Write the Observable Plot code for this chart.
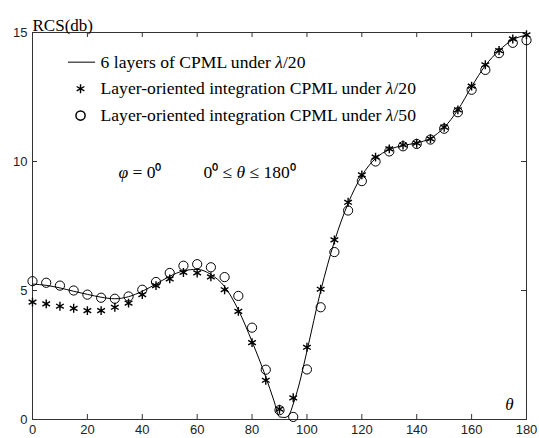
<!DOCTYPE html>
<html><head><meta charset="utf-8">
<script src="https://cdn.jsdelivr.net/npm/d3@7"></script>
<script src="https://cdn.jsdelivr.net/npm/@observablehq/plot@0.6"></script>
<style>body{margin:0;background:#fff}</style>
</head><body><div id="chart"></div>
<script>
// Observation angles (degrees)
const theta = [0,5,10,15,20,25,30,35,40,45,50,55,60,65,70,75,80,85,90,95,100,105,110,115,120,125,130,135,140,145,150,155,160,165,170,175,180];
// Layer-oriented integration CPML under λ/20 (stars)
const starRCS = [4.55,4.48,4.39,4.31,4.22,4.22,4.35,4.51,4.84,5.19,5.45,5.70,5.68,5.53,5.03,4.19,2.98,1.52,0.40,0.84,2.80,5.05,6.96,8.42,9.48,10.17,10.49,10.64,10.71,10.88,11.33,12.00,12.92,13.75,14.30,14.75,14.91];
// Layer-oriented integration CPML under λ/50 (circles)
const circleRCS = [5.36,5.30,5.19,5.00,4.84,4.72,4.68,4.77,5.03,5.33,5.68,5.96,6.02,5.90,5.52,4.79,3.56,1.93,0.36,0.10,1.94,4.35,6.49,8.10,9.24,10.00,10.39,10.59,10.68,10.85,11.27,11.91,12.78,13.55,14.20,14.60,14.70];
// 6 layers of CPML under λ/20 (solid line)
const lineTheta = [0,5,10,15,20,25,30,35,40,45,50,55,60,65,70,75,80,85,88,90,92,93.5,95,97,100,105,110,115,120,125,130,135,140,145,150,155,160,165,170,175,180];
const lineRCS = [5.25,5.20,5.10,4.97,4.85,4.74,4.68,4.76,4.97,5.25,5.55,5.76,5.82,5.62,5.15,4.25,3.02,1.65,0.72,0.10,0.08,0.18,0.60,1.30,2.65,4.98,6.90,8.38,9.45,10.12,10.46,10.62,10.72,10.90,11.32,12.00,12.90,13.72,14.30,14.72,14.90];

const xTicks = [0,20,40,60,80,100,120,140,160,180];
const yTicks = [0,5,10,15];
const legendLabels = ["6 layers of CPML under λ/20", "Layer-oriented integration CPML under λ/20", "Layer-oriented integration CPML under λ/50"];
const yLabel = "RCS(db)";
const xLabel = "θ";
const annotation1 = "φ = 0⁰";
const annotation2 = "0⁰ ≤ θ ≤ 180⁰";

const stars = theta.map((t, i) => ({t, v: starRCS[i]}));
const circles = theta.map((t, i) => ({t, v: circleRCS[i]}));
const curve = lineTheta.map((t, i) => ({t, v: lineRCS[i]}));

// legend placement (in data units)
const legRows = [13.85, 12.82, 11.78];
const legend = legendLabels.map((label, i) => ({label, y: legRows[i]}));

const W = 539, H = 438, mL = 32, mR = 13, mT = 32, mB = 19;
const innerW = W - mL - mR, innerH = H - mT - mB;
const serif = "'Liberation Serif', 'Times New Roman', serif";
const sans = "'Liberation Sans', Arial, sans-serif";

const plot = Plot.plot({
  width: W, height: H,
  marginLeft: mL, marginRight: mR, marginTop: mT, marginBottom: mB,
  x: {domain: [0, 180]},
  y: {domain: [0, 15]},
  style: {fontFamily: sans, fontSize: "13px", background: "#fff", color: "#222", overflow: "visible"},
  marks: [
    Plot.frame({stroke: "#333", strokeWidth: 1}),
    // inward ticks
    Plot.tickX(xTicks, {x: d => d, insetTop: innerH - 5, stroke: "#333"}),
    Plot.tickX(xTicks, {x: d => d, insetBottom: innerH - 5, stroke: "#333"}),
    Plot.tickY(yTicks, {y: d => d, insetRight: innerW - 5, stroke: "#333"}),
    Plot.tickY(yTicks, {y: d => d, insetLeft: innerW - 5, stroke: "#333"}),
    Plot.axisX({ticks: xTicks, tickSize: 0, tickPadding: 5, label: null, fontSize: 13}),
    Plot.axisY({ticks: yTicks, tickSize: 0, tickPadding: 5, label: null, fontSize: 13}),
    // data
    Plot.line(curve, {x: "t", y: "v", stroke: "#000", strokeWidth: 1, curve: "monotone-x"}),
    Plot.dot(circles, {x: "t", y: "v", symbol: "circle", r: 4.6, stroke: "#000", fill: "none", strokeWidth: 1}),
    Plot.dot(stars, {x: "t", y: "v", symbol: "asterisk", r: 4.2, stroke: "#000", strokeWidth: 1.4}),
    // legend
    Plot.ruleY([legend[0]], {y: "y", x1: 13.1, x2: 23, stroke: "#000", strokeWidth: 1}),
    Plot.dot([legend[1]], {x: 17.5, y: "y", symbol: "asterisk", r: 4.2, stroke: "#000", strokeWidth: 1.4}),
    Plot.dot([legend[2]], {x: 17.5, y: "y", symbol: "circle", r: 4.6, stroke: "#000", fill: "none"}),
    Plot.text(legend, {x: 24.8, y: "y", text: "label", textAnchor: "start", fontFamily: serif, fontSize: 17.6, fill: "#000"}),
    // annotations
    Plot.text([annotation1], {x: 31.3, y: 9.59, text: d => d, textAnchor: "start", fontFamily: serif, fontSize: 17.5, fill: "#000"}),
    Plot.text([annotation2], {x: 62.3, y: 9.59, text: d => d, textAnchor: "start", fontFamily: serif, fontSize: 17.5, fill: "#000"}),
    Plot.text([yLabel], {frameAnchor: "top-left", text: d => d, textAnchor: "start", dy: -14, fontFamily: serif, fontSize: 17, fill: "#000"}),
    Plot.text([xLabel], {frameAnchor: "bottom-right", text: d => d, textAnchor: "middle", dx: -17, dy: -10, fontFamily: serif, fontSize: 17, fontStyle: "italic", fill: "#000"})
  ]
});

// italicize Greek letters inside mixed-style text
plot.querySelectorAll("text").forEach(t => {
  if (t.querySelector("tspan")) return;
  const s = t.textContent;
  if (!/[λφθ]/.test(s) || s === xLabel) return;
  t.textContent = "";
  const ns = "http://www.w3.org/2000/svg";
  s.split(/([λφθ])/).forEach(part => {
    if (!part) return;
    const sp = document.createElementNS(ns, "tspan");
    sp.textContent = part;
    if (/[λφθ]/.test(part)) sp.setAttribute("font-style", "italic");
    t.appendChild(sp);
  });
});

document.getElementById("chart").appendChild(plot);
</script>
</body></html>
